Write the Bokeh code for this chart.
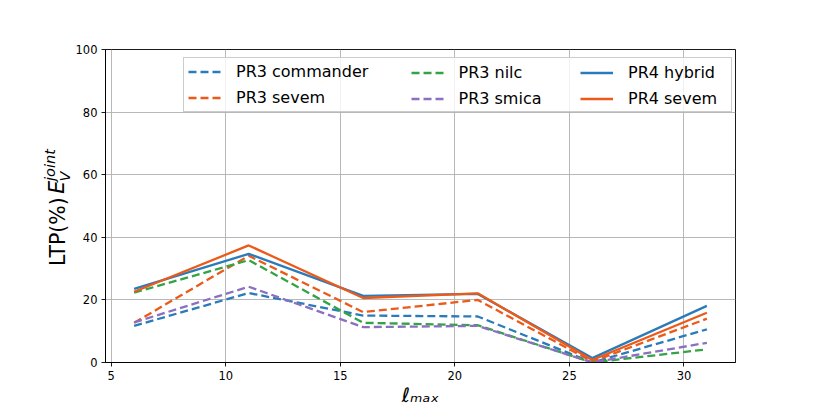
import math
from bokeh.plotting import figure
from bokeh.layouts import row
from bokeh.models import Legend, LegendItem, Range1d
from bokeh.core.properties import value
from bokeh.embed import file_html
from bokeh.resources import INLINE

# ---- data ----
lmax = [6, 11, 16, 21, 26, 31]
pr3_commander = [11.7, 22.2, 15.0, 14.7, 0.0, 10.6]
pr3_sevem = [12.7, 34.1, 16.1, 20.0, 0.3, 14.0]
pr3_nilc = [22.3, 32.7, 12.7, 11.9, 0.0, 4.2]
pr3_smica = [12.8, 24.2, 11.3, 11.7, 0.0, 6.3]
pr4_hybrid = [23.5, 34.7, 21.3, 21.9, 1.4, 18.1]
pr4_sevem = [22.6, 37.4, 20.6, 22.1, 0.8, 15.9]

series_names = ["PR3 commander", "PR3 sevem", "PR3 nilc", "PR3 smica", "PR4 hybrid", "PR4 sevem"]
series_values = [pr3_commander, pr3_sevem, pr3_nilc, pr3_smica, pr4_hybrid, pr4_sevem]
x_ticks = [5, 10, 15, 20, 25, 30]
y_ticks = [0, 20, 40, 60, 80, 100]
x_label = "ℓₘₐₓ"

# ---- styles ----
colors = ["#2b7bba", "#ec5a1a", "#33a345", "#8c70c0", "#2b7bba", "#ec5a1a"]
dashes = ["8 4", "8 4", "8 4", "8 4", "solid", "solid"]

TOTAL_W, H = 817, 409
YW = 72                       # width of the strip holding the y label
W = TOTAL_W - YW
FL, FT, FB = 101 - YW, 49, 364
FR = 735 - YW

# ---- y label strip (pixel coordinates, y measured from the bottom) ----
ylab = figure(width=YW, height=H, output_backend="svg", toolbar_location=None,
              title=None,
              x_range=Range1d(0, YW), y_range=Range1d(0, H),
              x_axis_type=None, y_axis_type=None,
              min_border_left=0, min_border_right=0, min_border_top=0, min_border_bottom=0)
ylab.outline_line_color = None
ylab.background_fill_color = "white"
ylab.border_fill_color = "white"

def ytext(t, cx, cy, size, italic):
    # (cx, cy): centre of the piece of text, in pixels from the top-left
    ylab.text(x=[cx], y=[H - cy], text=[t], angle=math.pi / 2,
              text_font=value("DejaVu Sans"), text_font_size=value(size),
              text_font_style="italic" if italic else "normal",
              text_align="center", text_baseline="middle", text_color="black")

ytext("LTP(%)", 57, 238, "20.5px", False)
ytext("E", 56, 180, "20.5px", True)
ytext("V", 64, 166, "14.5px", True)
ytext("joint", 49, 151, "14.5px", True)

# ---- main plot ----
p = figure(width=W, height=H, output_backend="svg", toolbar_location=None,
           x_range=Range1d(4.75, 32.25), y_range=Range1d(0, 100),
           min_border_left=FL, min_border_right=W - FR,
           min_border_top=FT, min_border_bottom=H - FB)
p.background_fill_color = "white"
p.border_fill_color = "white"
p.outline_line_color = "black"
p.outline_line_width = 0.9
p.outline_line_alpha = 1.0

p.xaxis.ticker = x_ticks
p.yaxis.ticker = y_ticks
for ax in (p.xaxis, p.yaxis):
    ax.major_tick_out = 4
    ax.major_tick_in = 0
    ax.minor_tick_out = 0
    ax.minor_tick_in = 0
    ax.axis_line_color = "black"
    ax.axis_line_width = 0.9
    ax.major_tick_line_width = 0.9
    ax.major_tick_line_color = "black"
    ax.major_label_text_font = "DejaVu Sans"
    ax.major_label_text_font_size = "11.5px"
    ax.major_label_text_color = "black"
    ax.major_label_standoff = 4
p.xaxis.axis_label = x_label
p.xaxis.axis_label_text_font = "DejaVu Sans"
p.xaxis.axis_label_text_font_size = "20px"
p.xaxis.axis_label_text_font_style = "italic"
p.xaxis.axis_label_text_color = "black"
p.xaxis.axis_label_standoff = 0
p.grid.grid_line_color = "#b0b0b0"
p.grid.grid_line_width = 0.9

renderers = []
for vals, c, d in zip(series_values, colors, dashes):
    r = p.line(lmax, vals, line_color=c, line_width=2.3, line_dash=d)
    renderers.append(r)

# legend: 3 columns, 2 rows
cols = [[0, 1], [2, 3], [4, 5]]
legend_x = [78, 301.5, 471]
for k, (col, lx) in enumerate(zip(cols, legend_x)):
    lg = Legend(items=[LegendItem(label=series_names[i], renderers=[renderers[i]]) for i in col],
                location=(lx, 250), orientation="vertical")
    lg.padding = 4
    lg.spacing = 7
    lg.margin = 0
    lg.glyph_width = 33
    lg.glyph_height = 19
    lg.label_height = 19
    lg.label_standoff = 15
    lg.label_text_font = "DejaVu Sans"
    lg.label_text_font_size = "16px"
    lg.label_text_color = "black"
    if k == 0:
        lg.label_width = 491
        lg.border_line_color = "#cccccc"
        lg.border_line_width = 1
        lg.border_line_alpha = 1.0
        lg.background_fill_color = "white"
        lg.background_fill_alpha = 0.8
    else:
        lg.border_line_alpha = 0.0
        lg.background_fill_alpha = 0.0
    p.add_layout(lg)

layout = row(ylab, p, spacing=0)
open("out.html", "w").write(file_html(layout, INLINE))
